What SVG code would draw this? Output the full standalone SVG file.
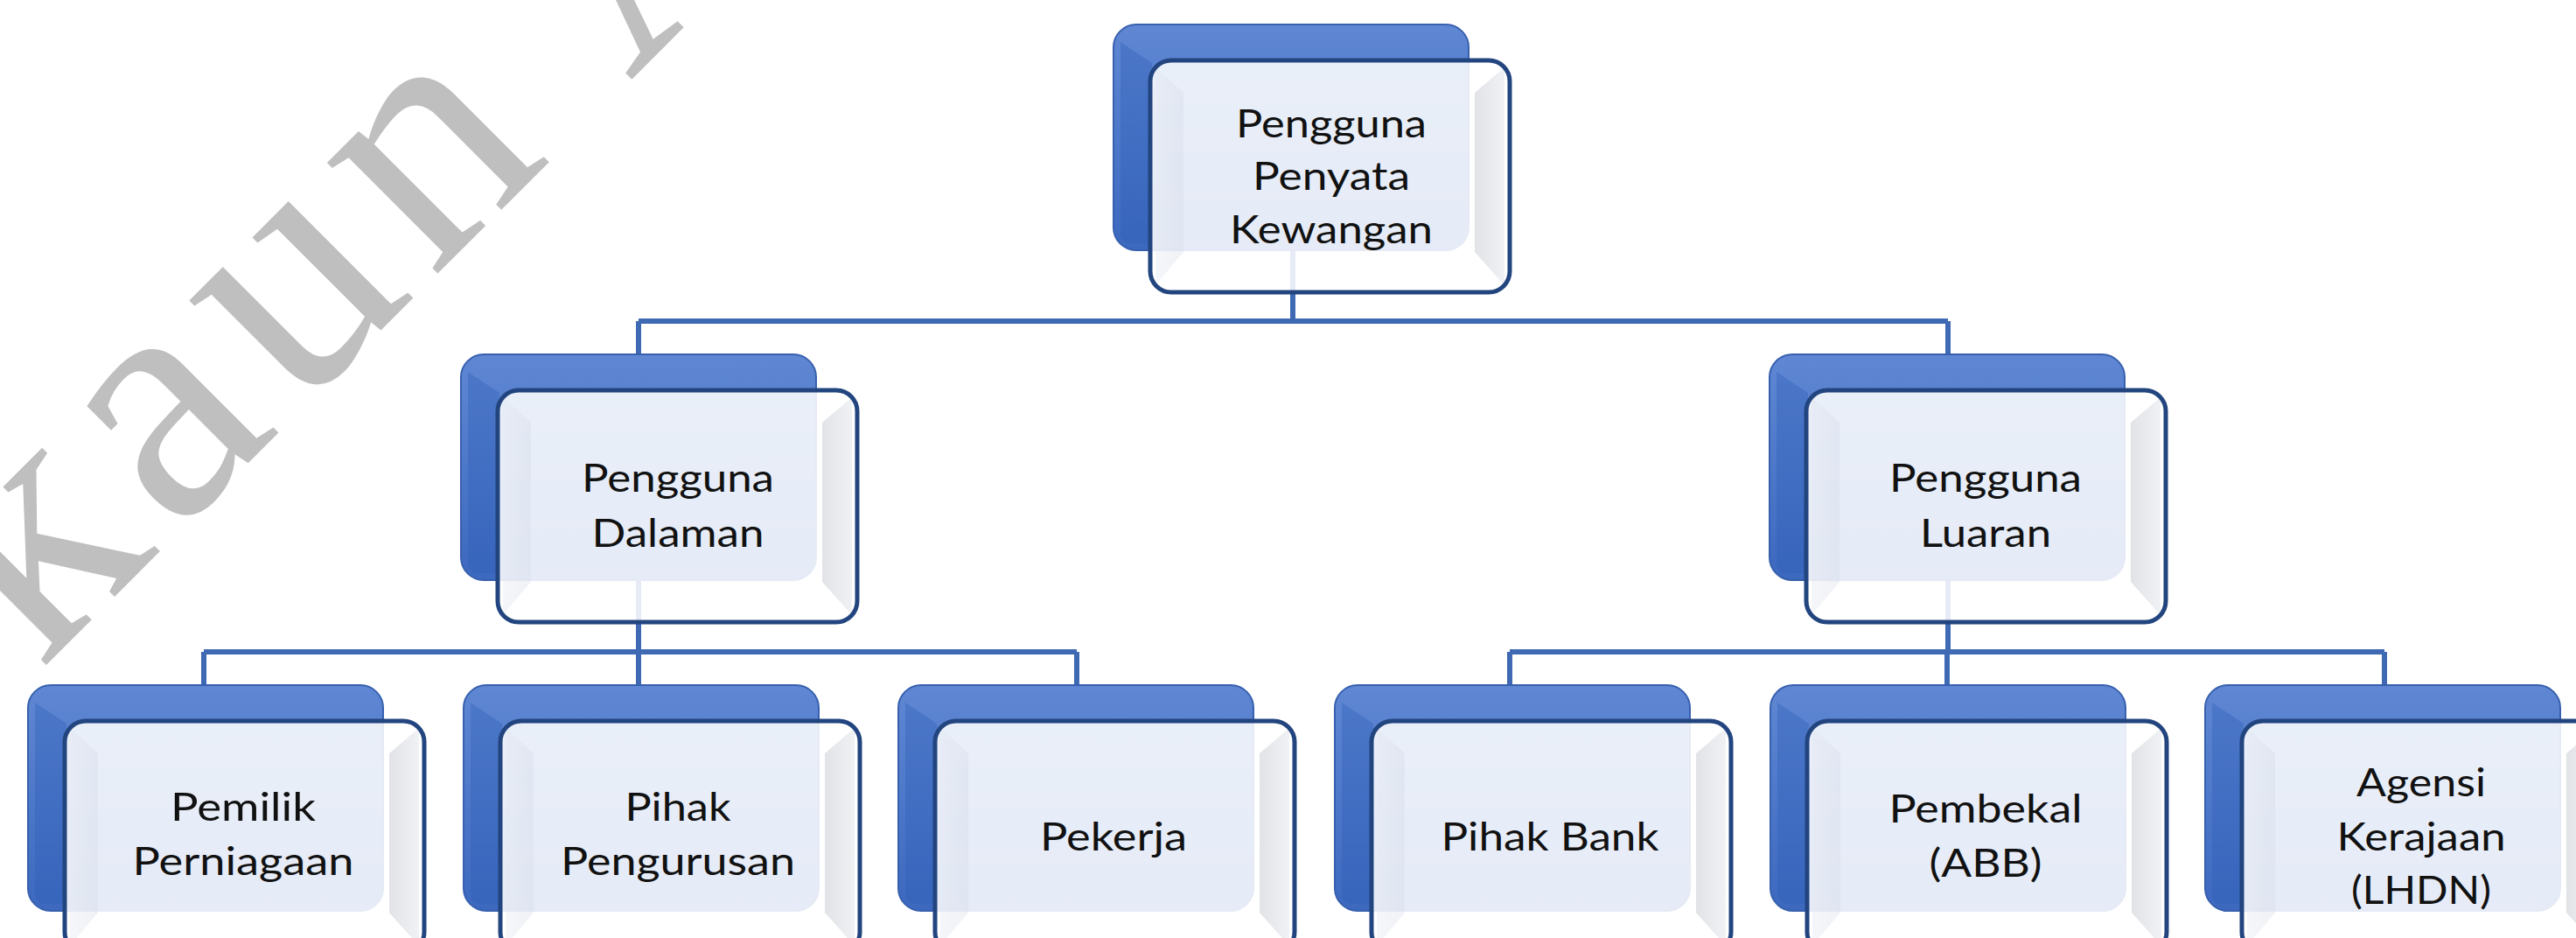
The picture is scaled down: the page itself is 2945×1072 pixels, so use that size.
<svg xmlns="http://www.w3.org/2000/svg" width="2945" height="1072" viewBox="0 0 2945 1072">
  <defs>
    <linearGradient id="gBlue" x1="0" y1="0" x2="0" y2="1">
      <stop offset="0" stop-color="#5F87D3"/>
      <stop offset="1" stop-color="#3C68BE"/>
    </linearGradient>
    <linearGradient id="gRight" x1="0" y1="0" x2="1" y2="0">
      <stop offset="0" stop-color="#C9CCD3"/>
      <stop offset="1" stop-color="#E4E6EB"/>
    </linearGradient>
    <linearGradient id="gLeft" x1="0" y1="0" x2="1" y2="0">
      <stop offset="0" stop-color="#E2E6EE"/>
      <stop offset="1" stop-color="#D3D9E6"/>
    </linearGradient>
    <symbol id="node" overflow="visible">
      <rect class="back" x="0" y="0" width="406" height="258" rx="26"/>
      <path class="backshade" d="M8,20 L44,44 L44,250 L20,250 Q8,250 8,238 Z"/>
      <rect class="front" x="42" y="41" width="411" height="265" rx="24"/>
      <path class="bev-r" d="M447,49 L413,78 L413,260 L447,298 Z"/>
      <path class="bev-l" d="M48,49 L80,78 L80,260 L48,298 Z"/>
      <rect class="frontline" x="42" y="41" width="411" height="265" rx="24"/>
    </symbol>
    <style>
      .back{fill:url(#gBlue);stroke:#3760AE;stroke-width:2}
      .backshade{fill:#2F5FB8;opacity:0.35}
      .front{fill:#FFFFFF;fill-opacity:0.87}
      .bev-r{fill:url(#gRight);opacity:0.55}
      .bev-l{fill:url(#gLeft);opacity:0.35}
      .frontline{fill:none;stroke:#22457F;stroke-width:5}
      .conn{fill:none;stroke:#3F69B3;stroke-width:6}
      .lbl{font-family:Lato,"Liberation Sans",sans-serif;font-size:44px;fill:#111111;text-anchor:middle}
      .wm{font-family:"Liberation Serif",serif;font-size:390px;letter-spacing:24px;fill:#BFBFBF}
    </style>
  </defs>
  <rect x="0" y="0" width="2945" height="1072" fill="#FFFFFF"/>
  <text class="wm" transform="translate(45,768) rotate(-45)">kaun A</text>

  <g id="connectors">
    <path class="conn" d="M1478,286 V367 M730,367 H2227 M730,367 V405 M2227,367 V405"/>
    <path class="conn" d="M730,663 V745 M233,745 H1231 M233,745 V783 M730,745 V783 M1231,745 V783"/>
    <path class="conn" d="M2227,663 V745 M1726,745 H2726 M1726,745 V783 M2226,745 V783 M2726,745 V783"/>
  </g>

  <g id="node-root">
    <use href="#node" x="1273" y="28"/>
    <text class="lbl" x="1522" y="157" textLength="218" lengthAdjust="spacingAndGlyphs">Pengguna</text>
    <text class="lbl" x="1522" y="217" textLength="180" lengthAdjust="spacingAndGlyphs">Penyata</text>
    <text class="lbl" x="1522" y="278" textLength="232" lengthAdjust="spacingAndGlyphs">Kewangan</text>
  </g>
  <g id="node-dalaman">
    <use href="#node" x="527" y="405"/>
    <text class="lbl" x="775" y="562" textLength="220" lengthAdjust="spacingAndGlyphs">Pengguna</text>
    <text class="lbl" x="775" y="625" textLength="197" lengthAdjust="spacingAndGlyphs">Dalaman</text>
  </g>
  <g id="node-luaran">
    <use href="#node" x="2023" y="405"/>
    <text class="lbl" x="2270" y="562" textLength="220" lengthAdjust="spacingAndGlyphs">Pengguna</text>
    <text class="lbl" x="2270" y="625" textLength="150" lengthAdjust="spacingAndGlyphs">Luaran</text>
  </g>
  <g id="node-pemilik">
    <use href="#node" x="32" y="783"/>
    <text class="lbl" x="278" y="938" textLength="166" lengthAdjust="spacingAndGlyphs">Pemilik</text>
    <text class="lbl" x="278" y="1000" textLength="253" lengthAdjust="spacingAndGlyphs">Perniagaan</text>
  </g>
  <g id="node-pengurusan">
    <use href="#node" x="530" y="783"/>
    <text class="lbl" x="775" y="938" textLength="121" lengthAdjust="spacingAndGlyphs">Pihak</text>
    <text class="lbl" x="775" y="1000" textLength="268" lengthAdjust="spacingAndGlyphs">Pengurusan</text>
  </g>
  <g id="node-pekerja">
    <use href="#node" x="1027" y="783"/>
    <text class="lbl" x="1273" y="972" textLength="168" lengthAdjust="spacingAndGlyphs">Pekerja</text>
  </g>
  <g id="node-bank">
    <use href="#node" x="1526" y="783"/>
    <text class="lbl" x="1772" y="972" textLength="249" lengthAdjust="spacingAndGlyphs">Pihak Bank</text>
  </g>
  <g id="node-pembekal">
    <use href="#node" x="2024" y="783"/>
    <text class="lbl" x="2270" y="940" textLength="221" lengthAdjust="spacingAndGlyphs">Pembekal</text>
    <text class="lbl" x="2270" y="1002" textLength="129" lengthAdjust="spacingAndGlyphs">(ABB)</text>
  </g>
  <g id="node-agensi">
    <use href="#node" x="2521" y="783"/>
    <text class="lbl" x="2768" y="910" textLength="148" lengthAdjust="spacingAndGlyphs">Agensi</text>
    <text class="lbl" x="2768" y="972" textLength="193" lengthAdjust="spacingAndGlyphs">Kerajaan</text>
    <text class="lbl" x="2768" y="1033" textLength="160" lengthAdjust="spacingAndGlyphs">(LHDN)</text>
  </g>
</svg>
